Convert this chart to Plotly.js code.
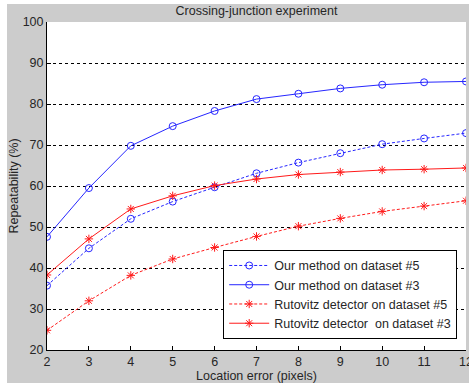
<!DOCTYPE html>
<html><head><meta charset="utf-8">
<script src="https://cdn.plot.ly/plotly-3.0.1.min.js"></script>
<style>
html,body{margin:0;padding:0;background:#fff;width:469px;height:383px;overflow:hidden;}
#chart{position:absolute;left:7px;top:4px;width:462px;height:379px;}
</style></head><body>
<div id="chart"></div>
<script>
const locationError = [2,3,4,5,6,7,8,9,10,11,12];
const ourDataset5 = [35.7,44.8,52.0,56.2,59.7,63.1,65.7,68.0,70.2,71.6,72.9];
const ourDataset3 = [47.6,59.5,69.8,74.6,78.3,81.2,82.5,83.8,84.7,85.3,85.5];
const rutDataset5 = [24.8,32.0,38.2,42.2,45.0,47.7,50.2,52.1,53.8,55.1,56.4];
const rutDataset3 = [38.3,47.1,54.4,57.6,60.1,61.7,62.8,63.4,63.9,64.1,64.4];
const seriesNames = ["Our method on dataset #5","Our method on dataset #3","Rutovitz detector on dataset #5","Rutovitz detector\u00a0 on dataset #3"];
const xTicks = [2,3,4,5,6,7,8,9,10,11,12];
const yTicks = [20,30,40,50,60,70,80,90,100];

const blue = '#2626ff', red = '#ff1a1a';
function tr(y, name, color, dash, symbol, size){
  return {x: locationError, y: y, name: name, type:'scatter', mode:'lines+markers',
    line:{color:color, width:1, dash:dash},
    marker:{symbol:symbol, size:size, color:color, line:{color:color, width:1}}};
}
const dashed = '3px,2px';
const data = [
  tr(ourDataset5, seriesNames[0], blue, dashed, 'circle-open', 7),
  tr(ourDataset3, seriesNames[1], blue, 'solid', 'circle-open', 7),
  tr(rutDataset5, seriesNames[2], red, dashed, 'asterisk-open', 7),
  tr(rutDataset3, seriesNames[3], red, 'solid', 'asterisk-open', 7)
];
const font = {family:'Liberation Sans, Arial, sans-serif', size:12.5, color:'#262626'};
const layout = {
  width:462, height:379,
  paper_bgcolor:'#cccccc', plot_bgcolor:'#ffffff',
  margin:{l:39.7, r:3.3, t:18, b:33},
  font: font,
  title:{text:'Crossing-junction experiment', x:0.5, xref:'paper', xanchor:'center', y:0.995, yref:'container', yanchor:'top', font:{family:font.family, size:12.5, color:'#262626'}},
  xaxis:{range:[2,12], tickvals:xTicks, ticktext:xTicks.map(String), showgrid:false, zeroline:false,
    showline:true, linecolor:'#000', linewidth:1, ticks:'inside', ticklen:4, tickcolor:'#000',
    ticklabeloverflow:'allow',
    title:{text:'Location error (pixels)', standoff:2, font:{size:12.5}}, tickfont:{size:12.5}},
  yaxis:{range:[20,100], tickvals:yTicks, showgrid:true, gridcolor:'#000', griddash:'dot', gridwidth:1, zeroline:false,
    showline:true, linecolor:'#000', linewidth:1, ticks:'inside', ticklen:4, tickcolor:'#000',
    ticklabeloverflow:'allow',
    title:{text:'Repeatability (%)', standoff:4, font:{size:12.5}}, tickfont:{size:12.5}},
  legend:{x:0.979, xanchor:'right', y:0.034, yanchor:'bottom', bgcolor:'#fff', bordercolor:'#000', borderwidth:1,
    font:{size:12.5}, itemwidth:40, tracegroupgap:0},
  showlegend:true
};
Plotly.newPlot('chart', data, layout, {displayModeBar:false, staticPlot:true});
</script></body></html>
